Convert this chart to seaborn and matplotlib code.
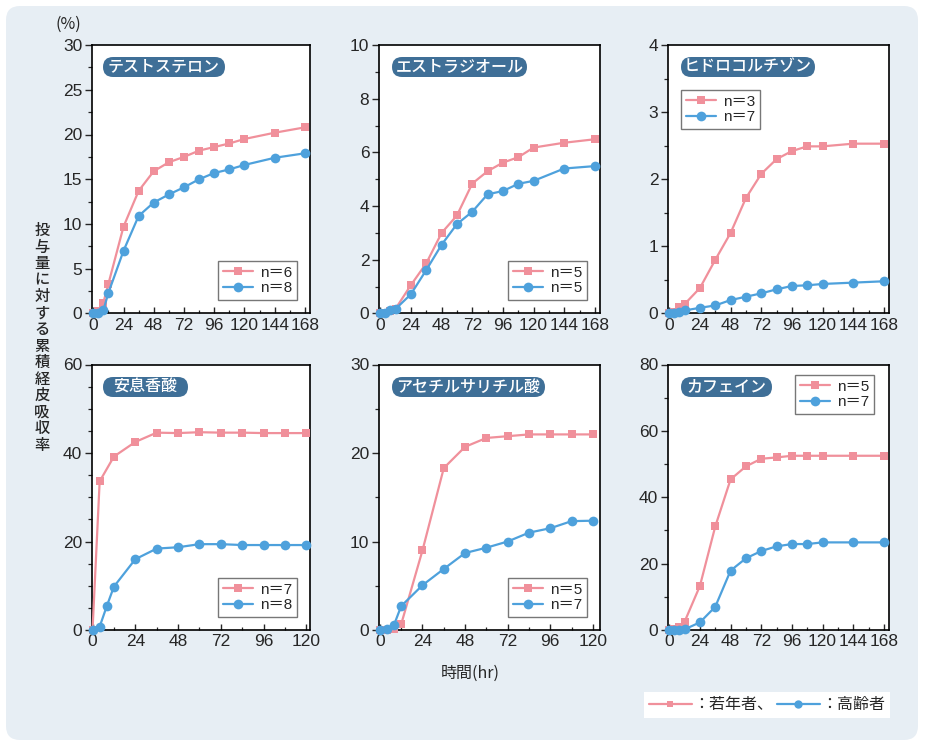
import numpy as np
import pandas as pd
import matplotlib
matplotlib.use("Agg")
import matplotlib.pyplot as plt
import seaborn as sns
from matplotlib.patches import FancyBboxPatch
from matplotlib.lines import Line2D
from matplotlib.ticker import MultipleLocator

sns.set_style("white")
plt.rcParams["font.family"] = ["Liberation Sans", "Noto Sans CJK JP", "DejaVu Sans"]
JP = ["Noto Sans CJK JP", "DejaVu Sans"]

# ---------------- data ----------------
t168 = [0, 4, 8, 12, 24, 36, 48, 60, 72, 84, 96, 108, 120, 144, 168]
t120 = [0, 4, 8, 12, 24, 36, 48, 60, 72, 84, 96, 108, 120]
t120_benzoic_young = [0, 4, 12, 24, 36, 48, 60, 72, 84, 96, 108, 120]

titles = ["テストステロン", "エストラジオール", "ヒドロコルチゾン", "安息香酸", "アセチルサリチル酸", "カフェイン"]

testo_young = [0, 0.3, 1.2, 3.3, 9.7, 13.7, 15.9, 16.9, 17.5, 18.2, 18.6, 19.0, 19.5, 20.2, 20.8]
testo_old = [0, 0.05, 0.35, 2.3, 7.0, 10.9, 12.4, 13.3, 14.1, 15.0, 15.7, 16.1, 16.6, 17.4, 17.9]
estra_young = [0, 0.03, 0.1, 0.18, 1.06, 1.87, 3.0, 3.65, 4.84, 5.3, 5.62, 5.82, 6.18, 6.36, 6.49]
estra_old = [0, 0.03, 0.12, 0.17, 0.72, 1.62, 2.56, 3.33, 3.79, 4.44, 4.56, 4.83, 4.94, 5.4, 5.49]
hydro_young = [0, 0.02, 0.09, 0.14, 0.38, 0.8, 1.2, 1.72, 2.08, 2.3, 2.42, 2.49, 2.49, 2.53, 2.53]
hydro_old = [0, 0.0, 0.025, 0.045, 0.085, 0.12, 0.2, 0.25, 0.3, 0.36, 0.41, 0.42, 0.44, 0.46, 0.48]
benz_young = [0, 33.6, 39.2, 42.5, 44.6, 44.5, 44.7, 44.6, 44.6, 44.5, 44.5, 44.5]
benz_old = [0, 0.75, 5.4, 9.8, 16.0, 18.4, 18.7, 19.4, 19.4, 19.2, 19.2, 19.2, 19.2]
asa_young = [0, 0.0, 0.15, 0.65, 9.0, 18.3, 20.7, 21.7, 21.9, 22.1, 22.1, 22.1, 22.1]
asa_old = [0, 0.1, 0.6, 2.7, 5.06, 6.9, 8.7, 9.3, 10.0, 11.0, 11.5, 12.3, 12.35]
caff_young = [0, 0.3, 0.8, 2.5, 13.3, 31.2, 45.4, 49.3, 51.6, 52.0, 52.5, 52.5, 52.5, 52.5, 52.5]
caff_old = [0, 0.0, 0.0, 0.2, 2.3, 7.0, 17.9, 21.6, 23.8, 25.2, 25.9, 25.9, 26.4, 26.4, 26.4]

n_young = [6, 5, 3, 7, 5, 5]
n_old = [8, 5, 7, 8, 7, 7]

young_label = "：若年者、"
old_label = "：高齢者"

# ---------------- styles ----------------
PINK = "#f0909b"
BLUE = "#4ea1dc"
PILL = "#3f6f97"
BG = "#e7eef4"

W, H = 941, 750
fig = plt.figure(figsize=(W / 100, H / 100), dpi=100)
fig.patch.set_facecolor("white")

bg = FancyBboxPatch((6 / 100, (H - 740) / 100), (918 - 6) / 100, (740 - 6) / 100,
                    boxstyle="round,pad=0,rounding_size=0.14",
                    transform=fig.dpi_scale_trans, facecolor=BG, edgecolor="none", zorder=-10)
fig.patches.append(bg)

rects = [(92, 45, 310, 313.5), (379, 45, 600, 313.5), (668, 45, 889, 313.5),
         (92, 364.5, 310, 630), (379, 364.5, 600, 630), (668, 364.5, 889, 630)]

series = [
    (t168, testo_young, t168, testo_old),
    (t168, estra_young, t168, estra_old),
    (t168, hydro_young, t168, hydro_old),
    (t120_benzoic_young, benz_young, t120, benz_old),
    (t120, asa_young, t120, asa_old),
    (t168, caff_young, t168, caff_old),
]
ylims = [30, 10, 4, 60, 30, 80]
ymaj = [5, 2, 1, 20, 10, 20]
ymin = [2.5, 1, 0.5, 5, 5, 10]
xlims = [(-1, 172), (-1, 172), (-1, 172), (-0.3, 122), (-0.5, 124), (-1, 172)]

pills = [(103, 57, 225, 77), (392, 57, 527, 77), (681, 57, 815, 77),
         (103, 377, 188, 397), (392, 377, 545, 397), (681, 377, 772, 397)]
legs = [(218, 261, 299, 302), (508, 261, 588, 302), (681, 90, 762, 129),
        (218, 578, 299, 618), (508, 578, 588, 618), (795, 375, 875, 415)]

for i, (l, t, r, b) in enumerate(rects):
    ax = fig.add_axes([l / W, 1 - b / H, (r - l) / W, (b - t) / H])
    ax.set_facecolor("white")
    xy_, yy_, xo_, yo_ = series[i]
    dfy = pd.DataFrame({"t": xy_, "v": yy_})
    dfo = pd.DataFrame({"t": xo_, "v": yo_})
    sns.lineplot(data=dfy, x="t", y="v", ax=ax, color=PINK, marker="s", markersize=6,
                 markeredgewidth=0, linewidth=1.6, label=f"n＝{n_young[i]}", clip_on=False, zorder=3)
    sns.lineplot(data=dfo, x="t", y="v", ax=ax, color=BLUE, marker="o", markersize=7,
                 markeredgewidth=0, linewidth=1.6, label=f"n＝{n_old[i]}", clip_on=False, zorder=4)
    ax.set_xlim(*xlims[i])
    ax.set_ylim(0, ylims[i])
    xmax = 168 if xlims[i][1] > 150 else 120
    ax.set_xticks(list(range(0, xmax + 1, 24)))
    ax.xaxis.set_minor_locator(MultipleLocator(12))
    ax.yaxis.set_major_locator(MultipleLocator(ymaj[i]))
    ax.yaxis.set_minor_locator(MultipleLocator(ymin[i]))
    ax.set_xlabel("")
    ax.set_ylabel("")
    for s in ax.spines.values():
        s.set_color("black")
        s.set_linewidth(1.2)
    ax.tick_params(axis="y", which="major", direction="out", length=5, width=1, labelsize=12.5, pad=2, left=True)
    ax.tick_params(axis="y", which="minor", direction="out", length=3, width=0.9, left=True)
    ax.tick_params(axis="x", which="major", direction="in", length=4, width=1, labelsize=12.5, pad=3, bottom=True)
    ax.tick_params(axis="x", which="minor", direction="in", length=2.5, width=0.9, bottom=True)

    ll, lt, lr, lb = legs[i]
    leg = ax.legend(loc="upper left",
                    bbox_to_anchor=((ll - l) / (r - l), 1 - (lt - t) / (b - t)),
                    frameon=True, fancybox=False, handlelength=2.0,
                    handletextpad=0.45, borderpad=0.3, labelspacing=0.12, borderaxespad=0,
                    prop={"family": ["Liberation Sans", "Noto Sans CJK JP"], "size": 11})
    leg.get_frame().set_edgecolor("#555555")
    leg.get_frame().set_linewidth(1.0)

    pl, pt, pr, pb = pills[i]
    pill = FancyBboxPatch((pl / 100, (H - pb) / 100), (pr - pl) / 100, (pb - pt) / 100,
                          boxstyle="round,pad=0,rounding_size=0.1",
                          transform=fig.dpi_scale_trans, facecolor=PILL, edgecolor="none", zorder=5)
    fig.patches.append(pill)
    fig.text((pl + pr) / 2 / W, 1 - (pt + pb) / 2 / H, titles[i], color="white",
             fontsize=11.5, family=JP, weight="medium", ha="center", va="center", zorder=6)

fig.text(68 / W, 1 - 24 / H, "(%)", fontsize=11.5, family=JP, ha="center", va="center")
ylab = "投与量に対する累積経皮吸収率"
fig.text(42 / W, 1 - 338 / H, "\n".join(ylab), fontsize=11, family=JP, weight="medium",
         ha="center", va="center", linespacing=0.96)
fig.text(470 / W, 1 - 673 / H, "時間(hr)", fontsize=11.5, family=JP, ha="center", va="center")

handles = [Line2D([], [], color=PINK, marker="s", markersize=5, markeredgewidth=0, linewidth=1.6),
           Line2D([], [], color=BLUE, marker="o", markersize=6, markeredgewidth=0, linewidth=1.6)]
bl = fig.legend(handles, [young_label, old_label], loc="center",
                bbox_to_anchor=(767 / W, 1 - 705 / H), ncol=2, frameon=True, fancybox=False,
                handlelength=2.7, handletextpad=0.1, columnspacing=0.2,
                borderpad=0.3, prop={"family": JP, "size": 11.5})
bl.get_frame().set_edgecolor("none")
bl.get_frame().set_facecolor("white")
bl.get_frame().set_alpha(1)

fig.savefig("out.png", dpi=100)
